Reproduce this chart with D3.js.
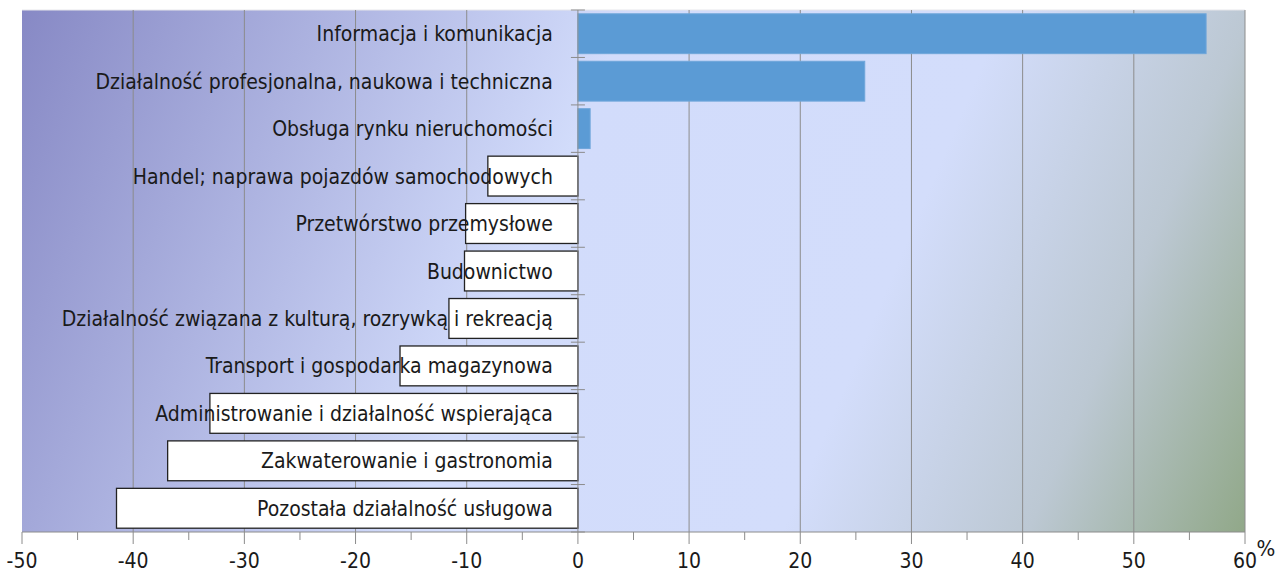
<!DOCTYPE html>
<html>
<head>
<meta charset="utf-8">
<script src="https://cdn.jsdelivr.net/npm/d3@7"></script>
<style>
  body { margin: 0; background: #fff; }
  text { font-family: "Liberation Sans Narrow", "DejaVu Sans Condensed", "Open Sans", sans-serif; fill: #1a1a1a; }
</style>
</head>
<body>
<script>
// kategorie i wartości (%)
var categories = [
  "Informacja i komunikacja",
  "Działalność profesjonalna, naukowa i techniczna",
  "Obsługa rynku nieruchomości",
  "Handel; naprawa pojazdów samochodowych",
  "Przetwórstwo przemysłowe",
  "Budownictwo",
  "Działalność związana z kulturą, rozrywką i rekreacją",
  "Transport i gospodarka magazynowa",
  "Administrowanie i działalność wspierająca",
  "Zakwaterowanie i gastronomia",
  "Pozostała działalność usługowa"
];
var values = [56.5, 25.8, 1.1, -8.1, -10.1, -10.2, -11.6, -16.0, -33.1, -36.9, -41.5];
var xTicks = [-50, -40, -30, -20, -10, 0, 10, 20, 30, 40, 50, 60];
var xMinorTicks = [-45, -35, -25, -15, -5, 5, 15, 25, 35, 45, 55];

var w = 1277, h = 579;
var padL = 22, padR = 1245, padT = 10, padB = 532;

var svg = d3.select("body").append("svg").attr("width", w).attr("height", h);

var x = d3.scaleLinear().domain([-50, 60]).range([padL, padR]);
var y = d3.scaleBand().domain(categories).range([padT, padB]).paddingInner(0.16).paddingOuter(0.08);
var yb = d3.scaleBand().domain(categories).range([padT, padB]);

// tło z gradientem po przekątnej
var defs = svg.append("defs");
var grad = defs.append("linearGradient").attr("id", "bg")
  .attr("gradientUnits", "userSpaceOnUse")
  .attr("x1", padL).attr("y1", padT)
  .attr("x2", padR).attr("y2", padB);
grad.append("stop").attr("offset", "0").attr("stop-color", "#8789c5");
grad.append("stop").attr("offset", "0.42").attr("stop-color", "#d2dcfb");
grad.append("stop").attr("offset", "0.68").attr("stop-color", "#d3ddfb");
grad.append("stop").attr("offset", "0.85").attr("stop-color", "#bcc8d3");
grad.append("stop").attr("offset", "1").attr("stop-color", "#91a889");

svg.append("rect")
  .attr("x", padL).attr("y", padT)
  .attr("width", padR - padL).attr("height", padB - padT)
  .attr("fill", "url(#bg)");

svg.append("line").attr("x1", padL).attr("x2", padR).attr("y1", padT).attr("y2", padT)
  .attr("stroke", "#e6e6ea").attr("stroke-width", 1);

// linie siatki
svg.append("g").selectAll("line")
  .data(xTicks.filter(function(d) { return d != 0 && d != -50; }))
  .enter().append("line")
  .attr("x1", function(d) { return x(d); }).attr("x2", function(d) { return x(d); })
  .attr("y1", padT).attr("y2", padB)
  .attr("stroke", "#8c8c8c").attr("stroke-width", 1);

// słupki
svg.append("g").selectAll("rect")
  .data(values)
  .enter().append("rect")
  .attr("x", function(d) { return x(Math.min(0, d)); })
  .attr("y", function(d, i) { return y(categories[i]); })
  .attr("width", function(d) { return Math.abs(x(d) - x(0)); })
  .attr("height", y.bandwidth())
  .attr("fill", function(d) { return d > 0 ? "#5b9bd5" : "#ffffff"; })
  .attr("stroke", function(d) { return d > 0 ? "#6fa6da" : "#222"; })
  .attr("stroke-width", function(d) { return d > 0 ? 1 : 1.3; });

// oś Y w zerze z kreskami
var yAxis = svg.append("g");
yAxis.append("line").attr("x1", x(0)).attr("x2", x(0)).attr("y1", padT).attr("y2", padB)
  .attr("stroke", "#8c8c8c");
yAxis.selectAll(".yt")
  .data(categories.concat(["end"]))
  .enter().append("line")
  .attr("x1", x(0) - 7).attr("x2", x(0) + 7)
  .attr("y1", function(d, i) { return i < categories.length ? yb(d) : padB; })
  .attr("y2", function(d, i) { return i < categories.length ? yb(d) : padB; })
  .attr("stroke", "#8c8c8c");

// etykiety kategorii
svg.append("g").selectAll("text")
  .data(categories)
  .enter().append("text")
  .attr("x", x(0) - 25)
  .attr("y", function(d) { return yb(d) + yb.bandwidth() / 2; })
  .attr("dy", "0.36em")
  .attr("text-anchor", "end")
  .style("font-size", "21px")
  .text(function(d) { return d; });

// oś X
var xAxis = svg.append("g").attr("transform", "translate(0," + padB + ")");
xAxis.append("line").attr("x1", padL).attr("x2", padR).attr("stroke", "#8c8c8c");
xAxis.selectAll(".maj").data(xTicks).enter().append("line")
  .attr("x1", function(d) { return x(d); }).attr("x2", function(d) { return x(d); })
  .attr("y1", 0).attr("y2", 12).attr("stroke", "#8c8c8c");
xAxis.selectAll(".min").data(xMinorTicks).enter().append("line")
  .attr("x1", function(d) { return x(d); }).attr("x2", function(d) { return x(d); })
  .attr("y1", 0).attr("y2", 8).attr("stroke", "#8c8c8c");
xAxis.selectAll("text").data(xTicks).enter().append("text")
  .attr("x", function(d) { return x(d); })
  .attr("y", 36)
  .attr("text-anchor", "middle")
  .style("font-size", "21px")
  .text(function(d) { return d; });

svg.append("text").attr("x", 1266).attr("y", 556)
  .attr("text-anchor", "middle").style("font-size", "22px").text("%");
</script>
</body>
</html>
